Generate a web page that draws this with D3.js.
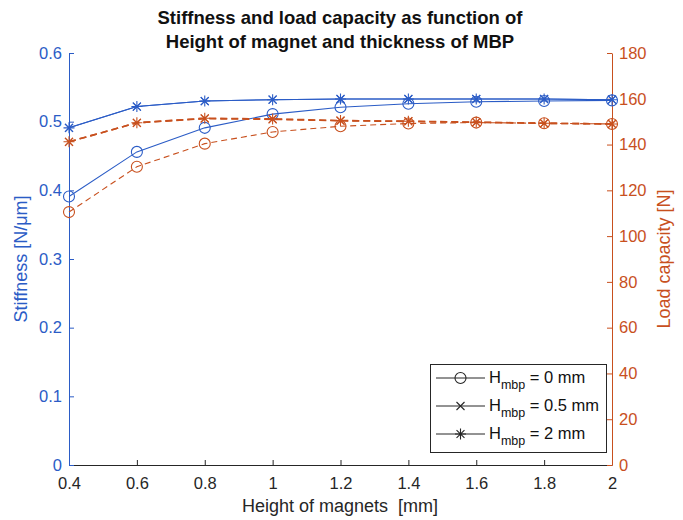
<!DOCTYPE html>
<html><head><meta charset="utf-8">
<script src="https://cdn.jsdelivr.net/npm/d3@7"></script>
<style>body{margin:0;background:#fff;} svg{display:block;font-family:"Liberation Sans",Arial,sans-serif;}</style>
</head><body>
<svg id="c" width="683" height="520"></svg>
<script>
const heights = [0.4, 0.6, 0.8, 1.0, 1.2, 1.4, 1.6, 1.8, 2.0];
const stiff0  = [0.391, 0.456, 0.491, 0.511, 0.521, 0.526, 0.529, 0.530, 0.531];
const stiff05 = [0.491, 0.522, 0.530, 0.532, 0.533, 0.533, 0.533, 0.533, 0.532];
const stiff2  = [0.491, 0.522, 0.530, 0.532, 0.533, 0.533, 0.533, 0.533, 0.532];
const load0   = [110.5, 130.3, 140.4, 145.5, 148.0, 149.2, 149.6, 149.3, 149.0];
const load05  = [141.2, 149.5, 151.3, 151.0, 150.4, 150.1, 149.7, 149.3, 149.0];
const load2   = [141.2, 149.5, 151.5, 151.2, 150.5, 150.2, 149.8, 149.3, 149.0];
const xTicks = [0.4, 0.6, 0.8, 1, 1.2, 1.4, 1.6, 1.8, 2];
const leftTicks = [0, 0.1, 0.2, 0.3, 0.4, 0.5, 0.6];
const rightTicks = [0, 20, 40, 60, 80, 100, 120, 140, 160, 180];
const legendLabels = ["= 0 mm", "= 0.5 mm", "= 2 mm"];

const BLUE = "#2b5cc6", ORANGE = "#c8501e", GRAY = "#262626";
const svg = d3.select("#c");
const L = 69, R = 612, T = 53, B = 465;
const x = d3.scaleLinear().domain([0.4, 2]).range([L, R]);
const yl = d3.scaleLinear().domain([0, 0.6]).range([B, T]);
const yr = d3.scaleLinear().domain([0, 180]).range([B, T]);

// axes
const xa = svg.append("g").attr("transform", `translate(0,${B})`)
  .call(d3.axisBottom(x).tickValues(xTicks).tickSizeInner(-5).tickSizeOuter(0).tickPadding(12).tickFormat(d3.format("~g")));
xa.select(".domain").attr("stroke", GRAY);
xa.selectAll(".tick line").attr("stroke", GRAY);
xa.selectAll("text").attr("fill", GRAY).attr("font-size", 16.5).attr("font-family", "Liberation Sans, Arial");

const la = svg.append("g").attr("transform", `translate(${L},0)`)
  .call(d3.axisLeft(yl).tickValues(leftTicks).tickSizeInner(-5).tickSizeOuter(0).tickPadding(7).tickFormat(d3.format("~g")));
la.select(".domain").attr("stroke", BLUE);
la.selectAll(".tick line").attr("stroke", BLUE);
la.selectAll("text").attr("fill", BLUE).attr("font-size", 16.5).attr("font-family", "Liberation Sans, Arial");

const ra = svg.append("g").attr("transform", `translate(${R},0)`)
  .call(d3.axisRight(yr).tickValues(rightTicks).tickSizeInner(-5).tickSizeOuter(0).tickPadding(7));
ra.select(".domain").attr("stroke", ORANGE);
ra.selectAll(".tick line").attr("stroke", ORANGE);
ra.selectAll("text").attr("fill", ORANGE).attr("font-size", 16.5).attr("font-family", "Liberation Sans, Arial");

// titles
svg.append("text").attr("x", 340).attr("y", 24).attr("text-anchor", "middle")
  .attr("font-weight", "bold").attr("font-size", 18.5).attr("fill", "#111").text("Stiffness and load capacity as function of");
svg.append("text").attr("x", 340).attr("y", 48).attr("text-anchor", "middle")
  .attr("font-weight", "bold").attr("font-size", 18.5).attr("fill", "#111").text("Height of magnet and thickness of MBP");
svg.append("text").attr("x", 340).attr("y", 512).attr("text-anchor", "middle")
  .attr("font-size", 18).attr("fill", GRAY).text("Height of magnets\u00a0\u00a0[mm]");
svg.append("text").attr("transform", `translate(27,${(T+B)/2}) rotate(-90)`).attr("text-anchor", "middle")
  .attr("font-size", 18).attr("fill", BLUE).text("Stiffness [N/\u03bcm]");
svg.append("text").attr("transform", `translate(670,${(T+B)/2}) rotate(-90)`).attr("text-anchor", "middle")
  .attr("font-size", 18).attr("fill", ORANGE).text("Load capacity [N]");

// markers
function marker(g, type, cx, cy, color) {
  if (type === "o") {
    g.append("circle").attr("cx", cx).attr("cy", cy).attr("r", 5.5).attr("fill", "none").attr("stroke", color).attr("stroke-width", 1.1);
  } else if (type === "x") {
    const s = 4;
    g.append("path").attr("d", `M${cx-s},${cy-s}L${cx+s},${cy+s}M${cx-s},${cy+s}L${cx+s},${cy-s}`).attr("stroke", color).attr("stroke-width", 1.1).attr("fill", "none");
  } else {
    const s = 5.5, d = s * 0.72;
    g.append("path").attr("d", `M${cx-s},${cy}L${cx+s},${cy}M${cx},${cy-s}L${cx},${cy+s}M${cx-d},${cy-d}L${cx+d},${cy+d}M${cx-d},${cy+d}L${cx+d},${cy-d}`)
      .attr("stroke", color).attr("stroke-width", 1.1).attr("fill", "none");
  }
}

const series = [
  {vals: stiff0, y: yl, color: BLUE, m: "o", dash: null, w: 1.1},
  {vals: stiff05, y: yl, color: BLUE, m: "x", dash: null, w: 1.1},
  {vals: stiff2, y: yl, color: BLUE, m: "*", dash: null, w: 1.1},
  {vals: load0, y: yr, color: ORANGE, m: "o", dash: "6,4", w: 1.1},
  {vals: load05, y: yr, color: ORANGE, m: "x", dash: "7,4", w: 1.6},
  {vals: load2, y: yr, color: ORANGE, m: "*", dash: "7,4", w: 1.6}
];
const plot = svg.append("g");
series.forEach(s => {
  const line = d3.line().x((d, i) => x(heights[i])).y(d => s.y(d));
  plot.append("path").datum(s.vals).attr("d", line).attr("fill", "none")
    .attr("stroke", s.color).attr("stroke-width", s.w).attr("stroke-dasharray", s.dash);
  const g = plot.append("g");
  s.vals.forEach((v, i) => marker(g, s.m, x(heights[i]), s.y(v), s.color));
});

// legend
const lg = svg.append("g");
lg.append("rect").attr("x", 430.5).attr("y", 364.5).attr("width", 176).attr("height", 88)
  .attr("fill", "#fff").attr("stroke", GRAY).attr("stroke-width", 1);
["o", "x", "*"].forEach((m, i) => {
  const yy = 378 + i * 28;
  lg.append("line").attr("x1", 436).attr("x2", 485).attr("y1", yy).attr("y2", yy).attr("stroke", GRAY).attr("stroke-width", 1);
  marker(lg, m, 460.5, yy, GRAY);
  const t = lg.append("text").attr("x", 489).attr("y", yy + 5).attr("font-size", 16.5).attr("fill", "#111");
  t.append("tspan").text("H");
  t.append("tspan").attr("font-size", 12.5).attr("dy", 6).text("mbp");
  t.append("tspan").attr("dy", -6).text(" " + legendLabels[i]);
});
</script>
</body></html>
